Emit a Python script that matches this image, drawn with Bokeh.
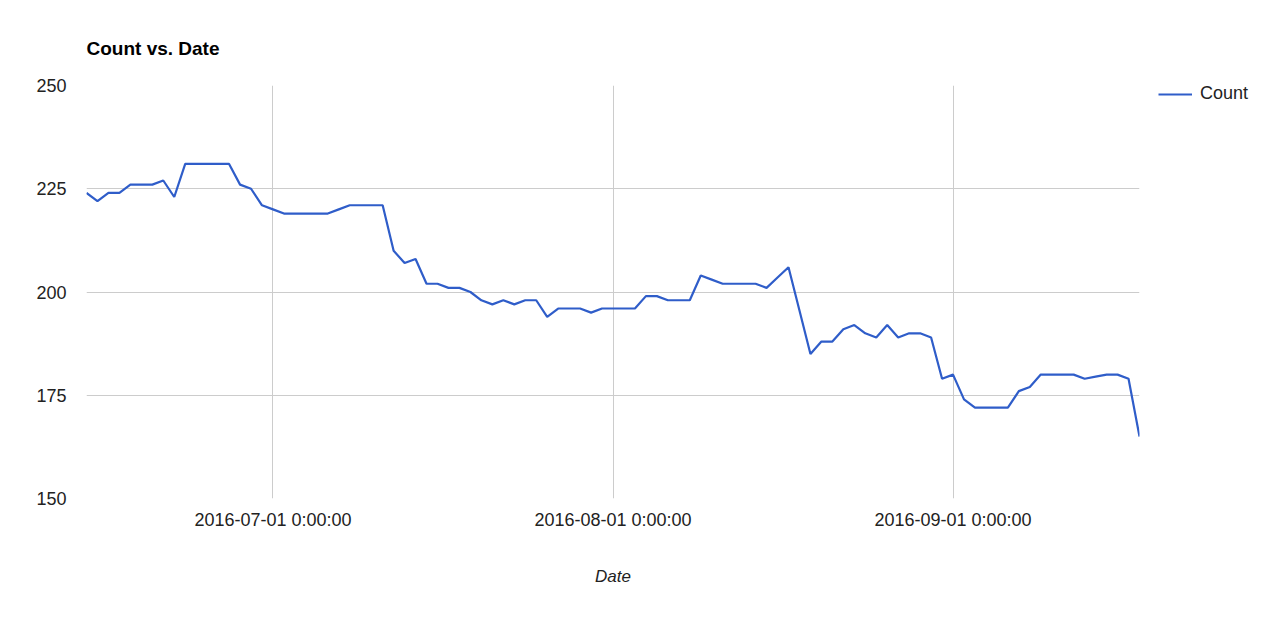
import pandas as pd
from bokeh.plotting import figure
from bokeh.models import Range1d, FixedTicker, Legend, LegendItem, ColumnDataSource
from bokeh.embed import file_html
from bokeh.resources import INLINE

start_date = "2016-06-14"
counts = [224, 222, 224, 224, 226, 226, 226, 227, 223, 231,
          231, 231, 231, 231, 226, 225, 221, 220, 219, 219,
          219, 219, 219, 220, 221, 221, 221, 221, 210, 207,
          208, 202, 202, 201, 201, 200, 198, 197, 198, 197,
          198, 198, 194, 196, 196, 196, 195, 196, 196, 196,
          196, 199, 199, 198, 198, 198, 204, 203, 202, 202,
          202, 202, 201, 203.5, 206, 195.5, 185, 188, 188, 191,
          192, 190, 189, 192, 189, 190, 190, 189, 179, 180,
          174, 172, 172, 172, 172, 176, 177, 180, 180, 180,
          180, 179, 179.5, 180, 180, 179, 165]
dates = pd.date_range(start_date, periods=len(counts), freq="D")

x_tick_dates = ["2016-07-01", "2016-08-01", "2016-09-01"]
x_tick_labels = ["2016-07-01 0:00:00", "2016-08-01 0:00:00", "2016-09-01 0:00:00"]
y_ticks = [150, 175, 200, 225, 250]

FONT = "Liberation Sans"

source = ColumnDataSource(dict(date=dates, count=counts))

p = figure(x_axis_type="datetime", output_backend="svg", toolbar_location=None,
           frame_width=1053, frame_height=413,
           min_border_left=86, min_border_right=133, min_border_top=85, min_border_bottom=118,
           title="Count vs. Date")
p.x_range = Range1d(dates[0], dates[-1])
p.y_range = Range1d(150, 250)

line = p.line("date", "count", source=source, line_color="#2f5dc9", line_width=2.2)

tick_ms = [pd.Timestamp(d).value / 1e6 for d in x_tick_dates]
p.xaxis.ticker = FixedTicker(ticks=tick_ms)
p.xaxis.major_label_overrides = {t: lab for t, lab in zip(tick_ms, x_tick_labels)}
p.yaxis.ticker = FixedTicker(ticks=y_ticks)

for ax in (p.xaxis, p.yaxis):
    ax.axis_line_color = None
    ax.major_tick_line_color = None
    ax.minor_tick_line_color = None
    ax.major_tick_out = 0
    ax.major_tick_in = 0
    ax.minor_tick_out = 0
    ax.major_label_text_font = FONT
    ax.major_label_text_font_size = "18px"
    ax.major_label_text_color = "#222222"

p.yaxis.major_label_standoff = 20
p.xaxis.major_label_standoff = 11
p.xaxis.axis_label = "Date"
p.xaxis.axis_label_text_font = FONT
p.xaxis.axis_label_text_font_size = "17px"
p.xaxis.axis_label_text_font_style = "italic"
p.xaxis.axis_label_text_color = "#222222"
p.xaxis.axis_label_standoff = 34

p.xgrid.grid_line_color = "#cccccc"
p.ygrid.grid_line_color = "#cccccc"
p.xgrid.grid_line_width = 1
p.ygrid.grid_line_width = 1
p.outline_line_color = None

p.title.text_font = FONT
p.title.text_font_size = "19px"
p.title.text_font_style = "bold"
p.title.text_color = "#000000"
p.title.align = "left"
p.title.offset = 0
p.title.standoff = 53

legend = Legend(items=[LegendItem(label="Count", renderers=[line])],
                location=(19, 394), margin=0, padding=0,
                border_line_color=None, background_fill_alpha=0,
                glyph_width=34, glyph_height=20, label_standoff=8,
                label_text_font=FONT, label_text_font_size="18px",
                label_text_color="#222222")
p.add_layout(legend, "right")

open("out.html", "w").write(file_html(p, INLINE))
